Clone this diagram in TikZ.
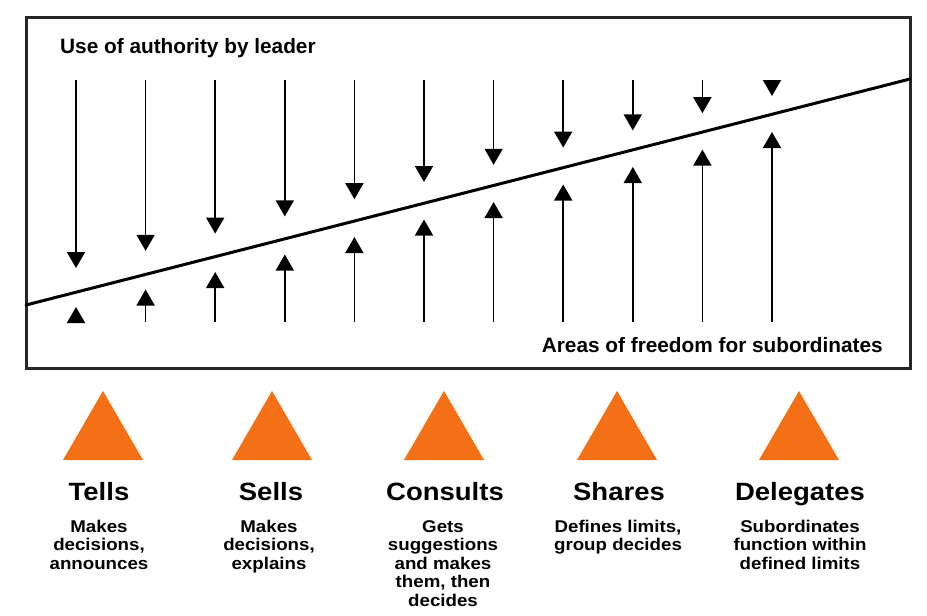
\documentclass[tikz,border=0pt]{standalone}
\usepackage{fontspec}
\setmainfont{Liberation Sans}
\usetikzlibrary{arrows.meta}
\definecolor{tri}{RGB}{243,112,22}
\tikzset{
  frame/.style={line width=3pt, draw=black!85},
  divider/.style={line width=3pt, line cap=round},
  authority/.style={line width=1.6pt, -{Triangle[width=18pt,length=16pt]}},
  lbl/.style={inner sep=0pt, font=\bfseries\fontsize{20.8}{24}\selectfont},
  style title/.style={inner sep=0pt, anchor=base, font=\bfseries\fontsize{25}{28}\selectfont},
  style desc/.style={inner sep=0pt, anchor=base, font=\bfseries\fontsize{17}{18.6}\selectfont},
  cone/.style={fill=tri},
}
\begin{document}
\begin{tikzpicture}[x=1pt, y=-1pt]
\useasboundingbox (0,0) rectangle (927,616);
% frame
\coordinate (bl) at (26,368);
\coordinate (tr) at (910,17);
\draw[frame] (bl) rectangle (tr);
% divider line
\coordinate (lineL) at (26,305);
\coordinate (lineR) at (910,79);
\draw[divider] (lineL) -- (lineR);
% arrows
\foreach \i in {0,...,10} {
  \pgfmathsetmacro\xx{76+69.6*\i}
  \pgfmathsetmacro\dt{268-17.2*\i}
  \pgfmathsetmacro\ut{307-17.5*\i}
  \coordinate (d\i s) at (\xx,80);
  \coordinate (d\i e) at (\xx,\dt);
  \coordinate (u\i s) at (\xx,322);
  \coordinate (u\i e) at (\xx,\ut);
  \draw[authority] (d\i s) -- (d\i e);
  \draw[authority] (u\i s) -- (u\i e);
}
% labels
\node[lbl, anchor=base west] (use) at (60,53) {Use of authority by leader};
\node[lbl, anchor=base east] (areas) at (883,352) {Areas of freedom for subordinates};
% cones
\foreach \c in {103,272,444,617,799} {
  \fill[cone] (\c-40,460) -- (\c,391) -- (\c+40,460) -- cycle;
}
% titles
\node[style title] (t1) at (99,500) {\scalebox{1.1}[1]{Tells}};
\node[style title] (t2) at (271,500) {\scalebox{1.1}[1]{Sells}};
\node[style title] (t3) at (445,500) {\scalebox{1.1}[1]{Consults}};
\node[style title] (t4) at (619,500) {\scalebox{1.1}[1]{Shares}};
\node[style title] (t5) at (800,500) {\scalebox{1.1}[1]{Delegates}};
% descriptions
\node[style desc] (s1) at (99,532) {\scalebox{1.1}[1]{\begin{tabular}[t]{@{}c@{}}Makes\\decisions,\\announces\end{tabular}}};
\node[style desc] (s2) at (269,532) {\scalebox{1.1}[1]{\begin{tabular}[t]{@{}c@{}}Makes\\decisions,\\explains\end{tabular}}};
\node[style desc] (s3) at (443,532) {\scalebox{1.1}[1]{\begin{tabular}[t]{@{}c@{}}Gets\\suggestions\\and makes\\them, then\\decides\end{tabular}}};
\node[style desc] (s4) at (618,532) {\scalebox{1.1}[1]{\begin{tabular}[t]{@{}c@{}}Defines limits,\\group decides\end{tabular}}};
\node[style desc] (s5) at (800,532) {\scalebox{1.1}[1]{\begin{tabular}[t]{@{}c@{}}Subordinates\\function within\\defined limits\end{tabular}}};
\end{tikzpicture}
\end{document}
